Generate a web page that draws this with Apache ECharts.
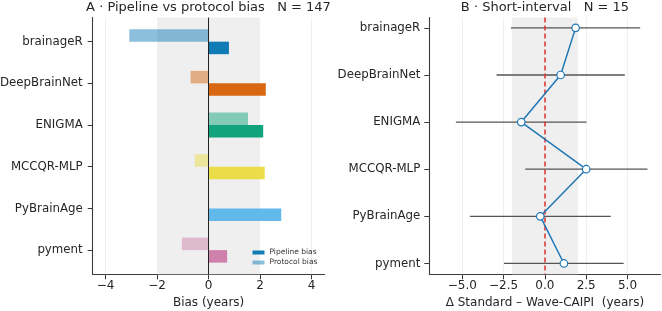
<!DOCTYPE html>
<html><head><meta charset="utf-8">
<script src="https://cdn.jsdelivr.net/npm/echarts@6/dist/echarts.min.js"></script>
<style>html,body{margin:0;padding:0;background:#fff}#c{width:662px;height:311px}</style>
</head><body><div id="c"></div>
<script>
// ---- data ----
const models = ['brainageR','DeepBrainNet','ENIGMA','MCCQR-MLP','PyBrainAge','pyment'];
const modelIdx = [0,1,2,3,4,5];
const pipelineBias = [0.79, 2.22, 2.12, 2.18, 2.82, 0.72];
const protocolBias = [-3.08, -0.70, 1.53, -0.54, 0.0, -1.04];
const shortDelta = [1.86, 0.95, -1.43, 2.50, -0.28, 1.15];
const shortLo = [-2.06, -2.93, -5.39, -1.19, -4.54, -2.48];
const shortHi = [5.77, 4.84, 2.52, 6.21, 3.99, 4.77];
const ticksA = [-4, -2, 0, 2, 4];
const ticksB = [-5, -2.5, 0, 2.5, 5];
const gridTicksA = [-4, 4];
const gridTicksB = [-5, -2.5, 2.5, 5];
const band = [-2, 2];
const titleA = 'A · Pipeline vs protocol bias   N = 147';
const titleB = 'B · Short-interval   N = 15';
const xNameA = 'Bias (years)';
const xNameB = 'Δ Standard – Wave-CAIPI  (years)';
const legendNames = ['Pipeline bias', 'Protocol bias'];

// ---- style ----
const colors = ['#0072B2','#D55E00','#009E73','#E9DC3A','#56B4E9','#CC79A7'];
const FONT = 'DejaVu Sans';
const textC = '#262626', lineC = '#3a3a3a';
function rgba(hex, a){const n=parseInt(hex.slice(1),16);return 'rgba('+(n>>16)+','+((n>>8)&255)+','+(n&255)+','+a+')';}
const minus = s => String(s).replace('-', '\u2212');

function barRender(kind){
  return function(params, api){
    const i = api.value(0), v = api.value(1);
    const p0 = api.coord([0, i]), p1 = api.coord([v, i]);
    const h = api.size([0, 0.3])[1];
    const y = kind === 'pipe' ? p0[1] : p0[1] - h;
    return {type:'rect', shape:{x:Math.min(p0[0],p1[0]), y:y, width:Math.abs(p1[0]-p0[0]), height:h},
      style:{fill: rgba(colors[i], kind === 'pipe' ? 0.93 : 0.45)}};
  };
}
function errRender(params, api){
  const a = api.coord([api.value(0), api.value(2)]);
  const b = api.coord([api.value(1), api.value(2)]);
  return {type:'line', shape:{x1:a[0], y1:a[1], x2:b[0], y2:b[1]}, style:{stroke:'#555555', lineWidth:1.3}};
}

function xAxisCfg(grid, min, max, ticks, fmt, name){
  return {gridIndex:grid, type:'value', min:min, max:max,
    axisLine:{show:true, onZero:false, lineStyle:{color:lineC, width:1.1}},
    axisTick:{show:true, customValues:ticks, length:5, lineStyle:{color:lineC, width:1}},
    axisLabel:{customValues:ticks, formatter:fmt, fontSize:12, color:textC, fontFamily:FONT, margin:5.5},
    splitLine:{show:false},
    name:name, nameLocation:'middle', nameGap:21.5,
    nameTextStyle:{fontSize:12, color:textC, fontFamily:FONT}};
}
function yAxisCfg(grid, min, max, margin){
  return {gridIndex:grid, type:'value', min:min, max:max, inverse:true,
    axisLine:{show:true, onZero:false, lineStyle:{color:lineC, width:1.1}},
    axisTick:{show:true, customValues:modelIdx, length:5, lineStyle:{color:lineC, width:1}},
    axisLabel:{customValues:modelIdx, formatter:v => models[Math.round(v)], fontSize:11.8, color:textC, fontFamily:FONT, margin:margin},
    splitLine:{show:false}};
}

const chart = echarts.init(document.getElementById('c'), null, {renderer:'canvas'});
chart.setOption({
  animation:false,
  title:[
    {text:titleA, left:208.5, top:1.5, textAlign:'center', padding:0, textStyle:{fontSize:13, fontWeight:'normal', color:textC, fontFamily:FONT}},
    {text:titleB, left:545, top:1.5, textAlign:'center', padding:0, textStyle:{fontSize:13, fontWeight:'normal', color:textC, fontFamily:FONT}}
  ],
  legend:{data:legendNames, orient:'vertical', left:252.5, top:248.5, itemWidth:12, itemHeight:4, itemGap:2, icon:'rect',
    textStyle:{fontSize:7.5, color:'#333', fontFamily:FONT}, padding:0},
  grid:[
    {left:92.7, right:337.5, top:17.5, bottom:36.7, outerBoundsMode:'none', containLabel:false},
    {left:429.3, right:1.5, top:17.5, bottom:36.7, outerBoundsMode:'none', containLabel:false}
  ],
  xAxis:[
    xAxisCfg(0, -4.5, 4.5, ticksA, v => minus(v), xNameA),
    xAxisCfg(1, -7, 7, ticksB, v => minus(Number(v).toFixed(1)), xNameB)
  ],
  yAxis:[
    yAxisCfg(0, -0.58, 5.58, 10),
    yAxisCfg(1, -0.22, 5.23, 9)
  ],
  series:[
    {name:legendNames[1], type:'custom', xAxisIndex:0, yAxisIndex:0, z:2,
      itemStyle:{color:rgba('#0072B2',0.45)},
      data:protocolBias.map((v,i)=>[i,v]), encode:{x:1, y:0}, renderItem:barRender('proto'),
      markArea:{silent:true, z:1, itemStyle:{color:'#efefef'}, data:[[{xAxis:band[0]},{xAxis:band[1]}]]},
      markLine:{silent:true, z:1, symbol:'none', label:{show:false}, lineStyle:{color:'#ebebeb', width:0.8, type:'solid'},
        data:gridTicksA.map(t=>({xAxis:t}))}
    },
    {name:legendNames[0], type:'custom', xAxisIndex:0, yAxisIndex:0, z:2,
      itemStyle:{color:rgba('#0072B2',0.93)},
      data:pipelineBias.map((v,i)=>[i,v]), encode:{x:1, y:0}, renderItem:barRender('pipe'),
      markLine:{silent:true, z:5, symbol:'none', label:{show:false}, lineStyle:{color:'#222', width:1, type:'solid'},
        data:[{xAxis:0}]}
    },
    {name:'err', type:'custom', xAxisIndex:1, yAxisIndex:1, z:2,
      data:shortLo.map((lo,i)=>[lo, shortHi[i], i]), encode:{x:[0,1], y:2}, renderItem:errRender,
      markArea:{silent:true, z:1, itemStyle:{color:'#efefef'}, data:[[{xAxis:band[0]},{xAxis:band[1]}]]},
      markLine:{silent:true, z:1, symbol:'none', label:{show:false}, lineStyle:{color:'#ebebeb', width:0.8, type:'solid'},
        data:gridTicksB.map(t=>({xAxis:t}))}
    },
    {name:'delta', type:'line', xAxisIndex:1, yAxisIndex:1, z:4,
      data:shortDelta.map((v,i)=>[v,i]), encode:{x:0, y:1},
      symbol:'circle', symbolSize:7.5, showSymbol:true,
      itemStyle:{color:'#ffffff', borderColor:'#1f77b4', borderWidth:1.2},
      lineStyle:{color:'#1f77b4', width:1.5},
      markLine:{silent:true, z:3, symbol:'none', label:{show:false}, lineStyle:{color:'#e0302a', width:1.5, type:[5,3]},
        data:[{xAxis:0}]}
    }
  ]
});
</script></body></html>
